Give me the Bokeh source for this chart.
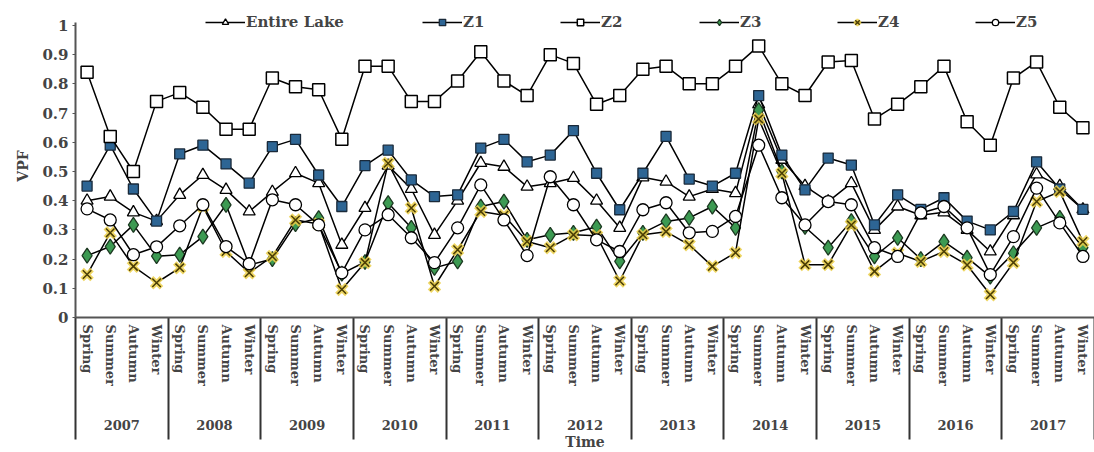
from bokeh.plotting import figure
from bokeh.models import (FactorRange, Range1d, FixedTicker, Legend, LegendItem,
                          CategoricalAxis, LinearAxis)
from bokeh.embed import file_html
from bokeh.resources import INLINE

years = ["2007", "2008", "2009", "2010", "2011", "2012", "2013", "2014", "2015", "2016", "2017"]
seasons = ["Spring", "Summer", "Autumn", "Winter"]

entire_lake = [0.40, 0.414, 0.36, 0.33, 0.42, 0.488, 0.437, 0.363, 0.43, 0.494, 0.46, 0.249,
               0.375, 0.52, 0.44, 0.283, 0.40, 0.529, 0.516, 0.448, 0.46, 0.478, 0.40, 0.307,
               0.48, 0.465, 0.414, 0.44, 0.426, 0.73, 0.54, 0.45, 0.397, 0.46, 0.30, 0.38,
               0.35, 0.36, 0.30, 0.226, 0.35, 0.49, 0.45, 0.37]
z1 = [0.45, 0.59, 0.44, 0.33, 0.56, 0.59, 0.526, 0.46, 0.585, 0.61, 0.488, 0.38,
      0.52, 0.573, 0.471, 0.414, 0.42, 0.58, 0.61, 0.533, 0.556, 0.64, 0.494, 0.369,
      0.494, 0.62, 0.474, 0.45, 0.494, 0.76, 0.556, 0.437, 0.546, 0.522, 0.317, 0.42,
      0.37, 0.41, 0.33, 0.30, 0.363, 0.533, 0.44, 0.37]
z2 = [0.84, 0.62, 0.50, 0.74, 0.77, 0.72, 0.645, 0.645, 0.82, 0.79, 0.78, 0.61,
      0.86, 0.86, 0.74, 0.74, 0.81, 0.91, 0.81, 0.76, 0.90, 0.87, 0.73, 0.76,
      0.85, 0.86, 0.80, 0.80, 0.86, 0.93, 0.80, 0.76, 0.875, 0.88, 0.68, 0.73,
      0.79, 0.86, 0.67, 0.59, 0.82, 0.875, 0.72, 0.65]
z3 = [0.212, 0.243, 0.317, 0.21, 0.215, 0.277, 0.386, 0.18, 0.20, 0.32, 0.34, 0.15,
      0.19, 0.392, 0.307, 0.17, 0.192, 0.38, 0.397, 0.266, 0.283, 0.29, 0.311, 0.192,
      0.29, 0.329, 0.341, 0.38, 0.307, 0.71, 0.50, 0.31, 0.239, 0.33, 0.209, 0.273,
      0.20, 0.26, 0.205, 0.14, 0.22, 0.307, 0.341, 0.239]
z4 = [0.147, 0.29, 0.175, 0.119, 0.17, 0.38, 0.226, 0.153, 0.209, 0.334, 0.32, 0.096,
      0.188, 0.528, 0.375, 0.107, 0.232, 0.363, 0.35, 0.26, 0.239, 0.283, 0.28, 0.125,
      0.283, 0.294, 0.249, 0.175, 0.222, 0.68, 0.494, 0.181, 0.181, 0.317, 0.158, 0.22,
      0.192, 0.226, 0.18, 0.078, 0.188, 0.397, 0.431, 0.26]
z5 = [0.372, 0.334, 0.215, 0.242, 0.314, 0.386, 0.243, 0.184, 0.403, 0.386, 0.317, 0.153,
      0.30, 0.352, 0.273, 0.188, 0.307, 0.454, 0.334, 0.212, 0.482, 0.386, 0.266, 0.226,
      0.369, 0.393, 0.29, 0.295, 0.346, 0.59, 0.41, 0.317, 0.397, 0.386, 0.239, 0.209,
      0.358, 0.38, 0.307, 0.147, 0.277, 0.443, 0.324, 0.209]

y_ticks = [0, 0.1, 0.2, 0.3, 0.4, 0.5, 0.6, 0.7, 0.8, 0.9, 1]

FONT = "DejaVu Serif"
factors = [(y, s) for y in years for s in seasons]

p = figure(width=1094, height=452,
           x_range=FactorRange(*factors, range_padding=0, group_padding=0,
                               subgroup_padding=0, factor_padding=0),
           y_range=Range1d(0, 1.0375),
           output_backend="svg", toolbar_location=None,
           min_border_left=75, min_border_right=0, min_border_top=14, min_border_bottom=134)
p.outline_line_color = None
p.xgrid.visible = False
p.ygrid.visible = False
p.extra_x_ranges = {"years": FactorRange(*years, range_padding=0, factor_padding=0)}

# y axis
ya = p.yaxis[0]
ya.ticker = FixedTicker(ticks=y_ticks)
ya.bounds = (0, 1.01)
ya.major_label_overrides = {0: "0", 1: "1"}
ya.axis_label = "VPF"
ya.axis_label_text_font = FONT
ya.axis_label_text_font_style = "bold"
ya.axis_label_text_font_size = "14px"
ya.axis_label_standoff = 8
ya.major_label_text_font = FONT
ya.major_label_text_font_style = "bold"
ya.major_label_text_font_size = "15px"
ya.major_label_standoff = 4
ya.axis_line_color = "#555555"
ya.axis_line_width = 2
ya.major_tick_in = 0
ya.major_tick_out = 3
ya.major_tick_line_color = "#555555"
ya.minor_tick_line_color = None

# season axis (nested categorical)
xa = p.xaxis[0]
xa.major_label_orientation = "vertical"
xa.major_label_text_font = FONT
xa.major_label_text_font_style = "bold"
xa.major_label_text_font_size = "13px"
xa.major_label_standoff = 7
xa.group_text_color = None
xa.axis_line_color = "#555555"
xa.axis_line_width = 2
xa.major_tick_in = 0
xa.major_tick_out = 0
xa.major_tick_line_color = None
xa.separator_line_color = None

# year boundaries: ticks (in the factor range's synthetic units) drawn downward
sep_axis = LinearAxis(ticker=FixedTicker(ticks=list(range(0, len(factors) + 1, len(seasons)))),
                      major_tick_in=-122, major_tick_out=0,
                      major_tick_line_color="#333333", major_tick_line_width=2,
                      minor_tick_line_color=None, axis_line_color=None,
                      major_label_text_color=None)

# year labels
year_axis = CategoricalAxis(x_range_name="years",
                            axis_line_color=None, major_tick_line_color=None,
                            minor_tick_line_color=None,
                            major_tick_in=0, major_tick_out=0,
                            major_label_standoff=31,
                            major_label_text_font=FONT, major_label_text_font_style="bold",
                            major_label_text_font_size="13px",
                            axis_label="Time", axis_label_standoff=1,
                            axis_label_text_font=FONT, axis_label_text_font_style="bold",
                            axis_label_text_font_size="14px")
p.below = [sep_axis, xa, year_axis]

items = []

ln = p.line(factors, entire_lake, line_color="black", line_width=1.5)
sc = p.scatter(factors, entire_lake, marker="triangle", size=12, fill_color="white",
               line_color="black", line_width=1.3)
items.append(("Entire Lake", [ln, sc], 130))

ln = p.line(factors, z1, line_color="black", line_width=1.5)
sc = p.scatter(factors, z1, marker="square", size=10, fill_color="#2d6594",
               line_color="#1a2a3a", line_width=1.3)
items.append(("Z1", [ln, sc], 347))

ln = p.line(factors, z2, line_color="black", line_width=1.5)
sc = p.scatter(factors, z2, marker="square", size=12, fill_color="white",
               line_color="black", line_width=1.5)
items.append(("Z2", [ln, sc], 485))

ln = p.line(factors, z3, line_color="black", line_width=1.5)
sc = p.scatter(factors, z3, marker="diamond", size=15, fill_color="#3c9a52",
               line_color="#1d3a22", line_width=1.3)
items.append(("Z3", [ln, sc], 624))

ln = p.line(factors, z4, line_color="black", line_width=1.5)
sc1 = p.scatter(factors, z4, marker="x", size=14, line_color="#ecd04a", line_width=5, line_alpha=0.85)
sc2 = p.scatter(factors, z4, marker="x", size=12, line_color="#4a3d05", line_width=1.5)
items.append(("Z4", [ln, sc1, sc2], 762))

ln = p.line(factors, z5, line_color="black", line_width=1.5)
sc = p.scatter(factors, z5, marker="circle", size=12, fill_color="white",
               line_color="black", line_width=1.3)
items.append(("Z5", [ln, sc], 900))

for label, rends, xloc in items:
    lg = Legend(items=[LegendItem(label=label, renderers=rends)], location=(xloc, 286),
                orientation="horizontal", padding=0, margin=0, spacing=0,
                glyph_width=40, glyph_height=16, label_height=16, label_standoff=1,
                label_text_font=FONT, label_text_font_style="bold", label_text_font_size="15px",
                background_fill_alpha=0, border_line_color=None)
    p.add_layout(lg, "center")

open("out.html", "w").write(file_html(p, INLINE))
